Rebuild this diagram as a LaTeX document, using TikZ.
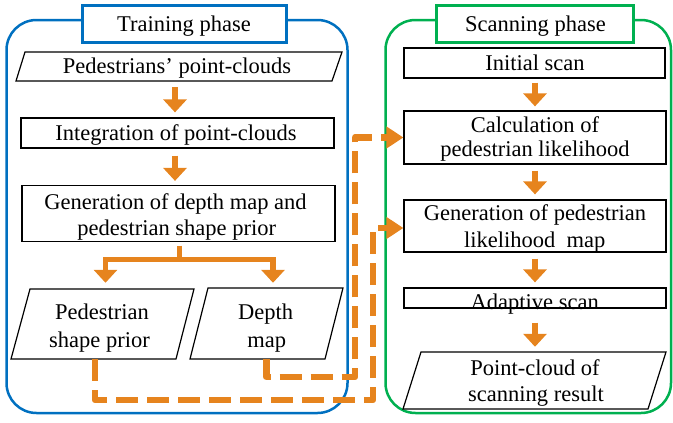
\documentclass[tikz,border=0pt]{standalone}
\usepackage{fontspec}
\setmainfont{Liberation Serif}
\usetikzlibrary{arrows.meta}
\definecolor{org}{RGB}{230,132,30}
\definecolor{tblue}{RGB}{0,112,192}
\definecolor{tgreen}{RGB}{0,176,80}
\begin{document}
\begin{tikzpicture}[x=1pt,y=-1pt,
  txt/.style={font=\fontsize{22.5}{27}\selectfont, inner sep=0pt, anchor=base},
  box/.style={draw=black, line width=1.2pt, inner sep=0pt, fill=white},
  anchorbox/.style={draw=none, inner sep=0pt},
  para/.style={draw=black, line width=1.2pt, fill=white, line join=miter},
  container/.style={line width=2.5pt, rounded corners=30pt, inner sep=0pt},
  titlebox/.style={line width=3pt, fill=white, inner sep=0pt},
  arr/.style={draw=org, line width=5.5pt, -{Triangle[width=23pt,length=13pt]}},
  arrline/.style={draw=org, line width=5.5pt, line join=miter},
  dsh/.style={draw=org, line width=6.5pt, dash pattern=on 22pt off 9pt, line join=round,
     -{Triangle[width=21pt,length=17pt]}}
]
\useasboundingbox (0,0) rectangle (673,423);

% containers
\node[container, draw=tblue, minimum width=341pt, minimum height=393pt] (trn) at (177,216.5) {};
\node[container, draw=tgreen, minimum width=285.5pt, minimum height=393pt] (scn) at (528.25,216.5) {};
\node[titlebox, draw=tblue, minimum width=204pt, minimum height=37pt] (trnT) at (184,23.5) {};
\node[titlebox, draw=tgreen, minimum width=197pt, minimum height=37pt] (scnT) at (534.5,23.5) {};
\node[txt] (trnTt) at (184,31) {Training phase};
\node[txt] (scnTt) at (535.5,31) {Scanning phase};

% training phase boxes
\draw[para] (25,52) -- (342,52) -- (332,81) -- (16,81) -- cycle;
\node[anchorbox, minimum width=316pt, minimum height=29pt] (ppc) at (178.75,66.5) {};
\node[txt] (ppct) at (177,73) {Pedestrians’ point-clouds};

\node[box, minimum width=313pt, minimum height=30pt] (int) at (177.5,133) {};
\node[txt] (intt) at (176,140) {Integration of point-clouds};

\node[box, minimum width=313pt, minimum height=56pt] (gen) at (178.5,213.5) {};
\node[txt] (gent1) at (175.5,209) {Generation of depth map and};
\node[txt] (gent2) at (176.7,235) {pedestrian shape prior};

\draw[para] (30,289) -- (194,289) -- (176,359) -- (11,359) -- cycle;
\node[anchorbox, minimum width=165pt, minimum height=70pt] (psp) at (102.75,324) {};
\node[txt] (pspt1) at (102,319) {Pedestrian};
\node[txt] (pspt2) at (99.5,347) {shape prior};

\draw[para] (208,288) -- (343,288) -- (325,359) -- (190,359) -- cycle;
\node[anchorbox, minimum width=135pt, minimum height=71pt] (dm) at (266.5,323.5) {};
\node[txt] (dmt1) at (265.7,319) {Depth};
\node[txt] (dmt2) at (266.7,347) {map};

% scanning phase boxes
\node[box, minimum width=261pt, minimum height=30pt] (is) at (534.5,63) {};
\node[txt] (ist) at (535,70) {Initial scan};

\node[box, minimum width=262pt, minimum height=53pt] (calc) at (535,137.5) {};
\node[txt] (calct1) at (535,132) {Calculation of};
\node[txt] (calct2) at (535,156) {pedestrian likelihood};

\node[box, minimum width=262pt, minimum height=52pt] (genl) at (535,226) {};
\node[txt] (genlt1) at (535,220.7) {Generation of pedestrian};
\node[txt] (genlt2) at (534.7,247.7) {likelihood\ \ map};

\node[box, minimum width=262pt, minimum height=20pt] (ad) at (535,298) {};
\node[txt] (adt) at (534.7,309) {Adaptive scan};

\draw[para] (421,352) -- (666,352) -- (648,409) -- (403,409) -- cycle;
\node[anchorbox, minimum width=245pt, minimum height=57pt] (pc) at (534.5,380.5) {};
\node[txt] (pct1) at (535,375) {Point-cloud of};
\node[txt] (pct2) at (536,401.7) {scanning result};

% helper coordinates
\coordinate (ax) at (175,0);
\coordinate (sx) at (535,0);
\coordinate (bx) at (179.5,0);
\coordinate (bj) at (179.5,259.5);
\coordinate (bl) at (105.5,0);
\coordinate (br) at (273,0);

% training arrows
\draw[arr, shorten <=6pt, shorten >=5pt] (ppc.south -| ax) -- (int.north -| ax);
\draw[arr, shorten <=7pt, shorten >=4pt] (int.south -| ax) -- (gen.north -| ax);
\draw[arrline] ([yshift=-3.5pt]gen.south -| bx) -- (bj);
\draw[arr, shorten >=6pt] (bj) -| (psp.north -| bl);
\draw[arr, shorten >=5pt] (bj) -| (dm.north -| br);

% scanning arrows
\draw[arr, shorten <=4pt, shorten >=4pt] (is.south -| sx) -- (calc.north -| sx);
\draw[arr, shorten <=6pt, shorten >=5pt] (calc.south -| sx) -- (genl.north -| sx);
\draw[arr, shorten <=6pt, shorten >=5pt] (genl.south -| sx) -- (ad.north -| sx);
\draw[arr, shorten <=14pt, shorten >=5pt] (ad.south -| sx) -- (pc.north -| sx);

% dashed connectors
\coordinate (d1a) at (266.5,377);
\coordinate (d1b) at (355,377);
\coordinate (d1c) at (355,137.5);
\draw[dsh] (dm.south) -- (d1a) -- (d1b) -- (d1c) -- (calc.west);

\coordinate (d2a) at (95,400);
\coordinate (d2b) at (373,400);
\coordinate (d2c) at (373,228);
\draw[dsh] ([xshift=-7.75pt]psp.south) -- (d2a) -- (d2b) -- (d2c) -- (genl.west |- d2c);
\end{tikzpicture}
\end{document}
